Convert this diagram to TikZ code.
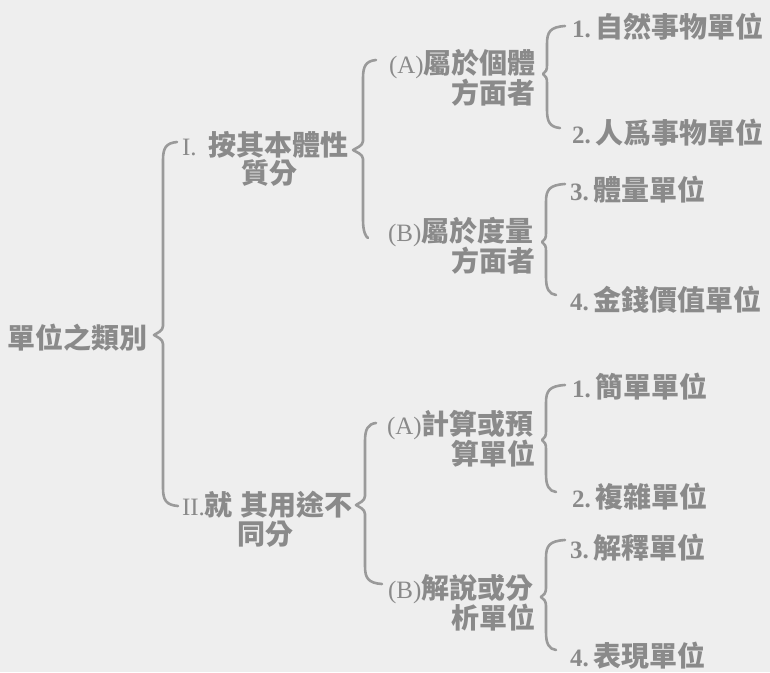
\documentclass[tikz,border=0pt]{standalone}
\usepackage{fontspec}
\setmainfont{Liberation Serif}
\newfontfamily\cjk{Noto Sans CJK TC}
\definecolor{paper}{HTML}{EEEEEE}
\definecolor{ink}{HTML}{8A8A8A}
\definecolor{bline}{HTML}{9A9A9A}
\newcommand\lat[1]{{\rmfamily\mdseries\fontsize{25}{27}\selectfont #1}}
\newcommand\num[1]{{\rmfamily\bfseries\fontsize{25}{27}\selectfont #1}}
\newcommand\mybrace[8]{%
  \coordinate (#1t) at (#2,#3);
  \coordinate (#1m) at (#5,#6);
  \coordinate (#1b) at (#7,#8);
  \draw[bracestyle] (#1t) .. controls (#4+3,#3+1) and (#4,#3+6) .. (#4,#3+18)
    -- (#4,#6-9) .. controls (#4,#6-4) and (#5+3,#6-2) .. (#1m)
    .. controls (#5+3,#6+2) and (#4,#6+4) .. (#4,#6+9)
    -- (#4,#8-18) .. controls (#4,#8-6) and (#4+3,#8-1) .. (#1b);
}
\tikzset{
  txt/.style={inner sep=0pt, outer sep=0pt, text=ink, font=\cjk\bfseries\fontsize{28}{30}\selectfont},
  bracestyle/.style={draw=bline, line width=2.6pt, line cap=round, line join=round}
}
\begin{document}
\begin{tikzpicture}[x=1pt,y=-1pt]
\fill[paper] (0,0) rectangle (770,672);
\useasboundingbox (0,0) rectangle (770,672);

% root
\node[txt, anchor=west] (root) at (7,338) {單位之類別};

% level 1
\node[txt, anchor=west] (I1) at (182,145) {\lat{I.}\hspace{12pt}按其本體性};
\node[txt, anchor=west] (I2) at (241,173) {質分};
\node[txt, anchor=west] (II1) at (182,505) {\lat{II.}就\hspace{8pt}其用途不};
\node[txt, anchor=west] (II2) at (237,534) {同分};

% level 2
\node[txt, anchor=west] (A1) at (389,64) {\lat{(A)}屬於個體};
\node[txt, anchor=east] (A2) at (535,93) {方面者};
\node[txt, anchor=west] (B1) at (388,232) {\lat{(B)}屬於度量};
\node[txt, anchor=east] (B2) at (535,261) {方面者};
\node[txt, anchor=west] (C1) at (387,425) {\lat{(A)}計算或預};
\node[txt, anchor=east] (C2) at (535,454) {算單位};
\node[txt, anchor=west] (D1) at (388,589) {\lat{(B)}解說或分};
\node[txt, anchor=east] (D2) at (535,618) {析單位};

% leaves
\node[txt, anchor=west] (r1) at (572,27) {\num{1.}\hspace{5pt}自然事物單位};
\node[txt, anchor=west] (r2) at (572,133) {\num{2.}\hspace{5pt}人爲事物單位};
\node[txt, anchor=west] (r3) at (570,190) {\num{3.}\hspace{5pt}體量單位};
\node[txt, anchor=west] (r4) at (570,300) {\num{4.}\hspace{5pt}金錢價值單位};
\node[txt, anchor=west] (r5) at (572,387) {\num{1.}\hspace{5pt}簡單單位};
\node[txt, anchor=west] (r6) at (572,497) {\num{2.}\hspace{5pt}複雜單位};
\node[txt, anchor=west] (r7) at (570,548) {\num{3.}\hspace{5pt}解釋單位};
\node[txt, anchor=west] (r8) at (570,656) {\num{4.}\hspace{5pt}表現單位};

% braces
\mybrace{big}{177}{142}{163}{154}{335}{178}{506}
\mybrace{bI}{376}{60}{363}{353}{150}{368}{238}
\mybrace{bII}{376}{423}{365}{356}{505}{382}{584}
\mybrace{bA}{565}{26}{547}{543}{74}{560}{128}
\mybrace{bB}{565}{184}{546}{542}{242}{556}{295}
\mybrace{bC}{565}{385}{546}{542}{440}{556}{492}
\mybrace{bD}{565}{540}{546}{541}{597}{556}{650}
\end{tikzpicture}
\end{document}
